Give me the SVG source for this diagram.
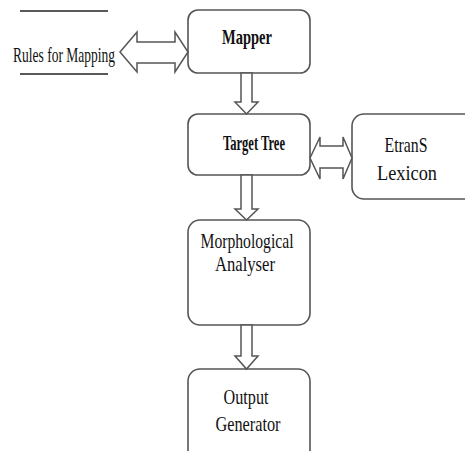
<svg xmlns="http://www.w3.org/2000/svg" width="465" height="451" viewBox="0 0 465 451">
<style>
.box{fill:#fff;stroke:#555;stroke-width:1.6}
.arr{fill:#fff;stroke:#555;stroke-width:1.5;stroke-linejoin:miter}
.t{font-family:"Liberation Serif","Times New Roman",serif;font-size:22px;fill:#111;text-anchor:middle}
.b{font-weight:bold}
.rule{stroke:#222;stroke-width:1.5}
</style>
<rect width="465" height="451" fill="#fff"/>
<g id="rules">
<line class="rule" x1="20" y1="11" x2="108" y2="11"/>
<line class="rule" x1="20" y1="74" x2="108" y2="74"/>
<text class="t" x="64" y="62" font-size="20" textLength="102" lengthAdjust="spacingAndGlyphs">Rules for Mapping</text>
</g>
<g id="mapper">
<rect class="box" x="188" y="10" width="122" height="63" rx="10"/>
<text class="t b" x="247" y="44" textLength="50" lengthAdjust="spacingAndGlyphs">Mapper</text>
</g>
<g id="target">
<rect class="box" x="188" y="114" width="122" height="61" rx="10"/>
<text class="t b" x="254" y="150" textLength="62" lengthAdjust="spacingAndGlyphs">Target Tree</text>
</g>
<g id="lexicon">
<rect class="box" x="352" y="114" width="130" height="85" rx="12"/>
<text class="t" x="406" y="152" textLength="43" lengthAdjust="spacingAndGlyphs">EtranS</text>
<text class="t" x="407" y="180" textLength="60" lengthAdjust="spacingAndGlyphs">Lexicon</text>
</g>
<g id="morph">
<rect class="box" x="188" y="220" width="122" height="105" rx="12"/>
<text class="t" x="247" y="248" textLength="93" lengthAdjust="spacingAndGlyphs">Morphological</text>
<text class="t" x="245" y="271" textLength="60" lengthAdjust="spacingAndGlyphs">Analyser</text>
</g>
<g id="output">
<rect class="box" x="188" y="369" width="122" height="100" rx="12"/>
<text class="t" x="246" y="404" textLength="45" lengthAdjust="spacingAndGlyphs">Output</text>
<text class="t" x="248" y="431" textLength="65" lengthAdjust="spacingAndGlyphs">Generator</text>
</g>
<g id="connectors">
<path class="arr" d="M120,52 L137,32 L137,42 L175,42 L175,32 L188,52 L175,72 L175,63 L137,63 L137,72 Z"/>
<path class="arr" d="M310,158 L320,137 L320,146 L343,146 L343,137 L352,158 L343,179 L343,168 L320,168 L320,179 Z"/>
<path class="arr" d="M241,73 L252,73 L252,102 L258,102 L246.5,114 L235,102 L241,102 Z"/>
<path class="arr" d="M241,175 L252,175 L252,209 L258,209 L246.5,220 L235,209 L241,209 Z"/>
<path class="arr" d="M241,325 L252,325 L252,356 L258,356 L246.5,369 L235,356 L241,356 Z"/>
</g>
</svg>
